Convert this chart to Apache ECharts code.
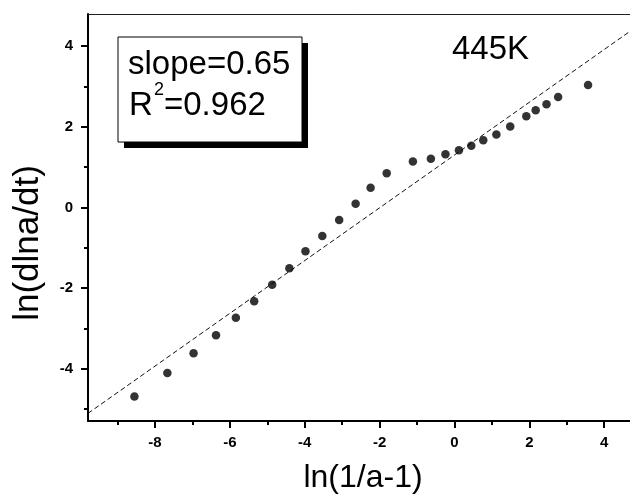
<!DOCTYPE html>
<html><head><meta charset="utf-8">
<script src="https://cdn.jsdelivr.net/npm/echarts@6/dist/echarts.min.js"></script>
<style>html,body{margin:0;padding:0;background:#fff}#c{width:630px;height:496px}</style>
</head><body><div id="c"></div>
<script>
// data
const xValues = [-8.55,-7.67,-6.97,-6.37,-5.84,-5.35,-4.87,-4.41,-3.98,-3.53,-3.08,-2.64,-2.24,-1.81,-1.11,-0.63,-0.24,0.12,0.45,0.77,1.12,1.49,1.92,2.17,2.46,2.77,3.57];
const yValues = [-4.69,-4.11,-3.62,-3.17,-2.74,-2.33,-1.92,-1.51,-1.09,-0.71,-0.31,0.09,0.49,0.85,1.14,1.21,1.32,1.42,1.53,1.67,1.81,2.01,2.26,2.41,2.56,2.74,3.04];
const fitX = [-9.79, 4.69];
const fitY = [-5.11, 4.37];
const xMajorTicks = [-8,-6,-4,-2,0,2,4];
const xMinorTicks = [-9,-7,-5,-3,-1,1,3];
const yMajorTicks = [-4,-2,0,2,4];
const yMinorTicks = [-5,-3,-1,1,3];
const xRange = [-9.79, 4.69];
const yRange = [-5.3, 4.8];
const xTitle = 'ln(1/a-1)';
const yTitle = 'ln(dlna/dt)';
const tempLabel = '445K';
const slopeText = 'slope=0.65';
const r2Value = '=0.962';

const FONT = 'Liberation Sans';
const chart = echarts.init(document.getElementById('c'), null, {renderer:'canvas'});
const black = '#000';
const common = {min: xRange[0], max: xRange[1], type:'value', gridIndex:0, splitLine:{show:false}};
const ycommon = {min: yRange[0], max: yRange[1], type:'value', gridIndex:0, splitLine:{show:false}};
const staticGraphics = [
  {id:'shadow', type:'rect', shape:{x:124, y:43, width:184, height:105}, style:{fill:'#000'}, z:10},
  {id:'box', type:'rect', shape:{x:118, y:37, width:184, height:105}, style:{fill:'#fff', stroke:'#000', lineWidth:1}, z:11},
  {id:'slope', type:'text', x:128, y:65, z:12, style:{text:slopeText, font:'33px '+FONT, fill:'#000', verticalAlign:'middle', align:'left'}},
  {id:'R', type:'text', x:129, y:106, z:12, style:{text:'R', font:'33px '+FONT, fill:'#000', verticalAlign:'middle', align:'left'}},
  {id:'sup', type:'text', x:154, y:90, z:12, style:{text:'2', font:'18px '+FONT, fill:'#000', verticalAlign:'middle', align:'left'}},
  {id:'r2', type:'text', x:164, y:106, z:12, style:{text:r2Value, font:'33px '+FONT, fill:'#000', verticalAlign:'middle', align:'left'}},
  {id:'temp', type:'text', x:452, y:50, z:12, style:{text:tempLabel, font:'33px '+FONT, fill:'#000', verticalAlign:'middle', align:'left'}},
  {id:'xt', type:'text', x:363, y:478, z:12, style:{text:xTitle, font:'32px '+FONT, fill:'#000', verticalAlign:'middle', align:'center'}},
  {id:'yt', type:'text', x:28, y:243, rotation:Math.PI/2, z:12, style:{text:yTitle, font:'35px '+FONT, fill:'#000', verticalAlign:'middle', align:'center'}}
];
chart.setOption({
  animation:false,
  backgroundColor:'#fff',
  grid:{left:88, top:14, right:0, bottom:75, containLabel:false},
  xAxis:[
    Object.assign({}, common, {position:'bottom',
      axisLine:{show:true, onZero:false, lineStyle:{color:black, width:2}},
      axisTick:{show:true, inside:false, length:7, lineStyle:{color:black, width:2}, customValues:xMajorTicks},
      axisLabel:{show:false}}),
    Object.assign({}, common, {position:'bottom',
      axisLine:{show:false, onZero:false},
      axisTick:{show:true, inside:false, length:4, lineStyle:{color:black, width:2}, customValues:xMinorTicks},
      axisLabel:{show:false}}),
    Object.assign({}, common, {position:'top',
      axisLine:{show:true, onZero:false, lineStyle:{color:'#222', width:1}},
      axisTick:{show:false}, axisLabel:{show:false}})
  ],
  yAxis:[
    Object.assign({}, ycommon, {position:'left',
      axisLine:{show:true, onZero:false, lineStyle:{color:black, width:2}},
      axisTick:{show:true, inside:false, length:7, lineStyle:{color:black, width:2}, customValues:yMajorTicks},
      axisLabel:{show:false}}),
    Object.assign({}, ycommon, {position:'left',
      axisLine:{show:false, onZero:false},
      axisTick:{show:true, inside:false, length:4, lineStyle:{color:black, width:2}, customValues:yMinorTicks},
      axisLabel:{show:false}})
  ],
  series:[
    {type:'line', xAxisIndex:0, yAxisIndex:0, data: fitX.map((x,i)=>[x, fitY[i]]),
     showSymbol:false, symbol:'none', lineStyle:{color:'#111', width:1, type:[5,3]}, z:2},
    {type:'scatter', xAxisIndex:0, yAxisIndex:0, data: xValues.map((x,i)=>[x, yValues[i]]),
     symbol:'circle', symbolSize:8.5, itemStyle:{color:black}, z:3}
  ],
  graphic: staticGraphics
});
// tick labels placed through the library's own axis scales
const labelFont = 'bold 15px ' + FONT;
const xAxisY = chart.convertToPixel({yAxisIndex:0}, yRange[0]);
const yAxisX = chart.convertToPixel({xAxisIndex:0}, xRange[0]);
const tickLabels = [];
xMajorTicks.forEach((v,i) => {
  tickLabels.push({id:'xl'+i, type:'text', x: chart.convertToPixel({xAxisIndex:0}, v), y: xAxisY + 22, z:12,
    style:{text:String(v), font:labelFont, fill:'#000', align:'center', verticalAlign:'middle'}});
});
yMajorTicks.forEach((v,i) => {
  tickLabels.push({id:'yl'+i, type:'text', x: yAxisX - 15, y: chart.convertToPixel({yAxisIndex:0}, v), z:12,
    style:{text:String(v), font:labelFont, fill:'#000', align:'right', verticalAlign:'middle'}});
});
chart.setOption({graphic: staticGraphics.concat(tickLabels)});
</script></body></html>
